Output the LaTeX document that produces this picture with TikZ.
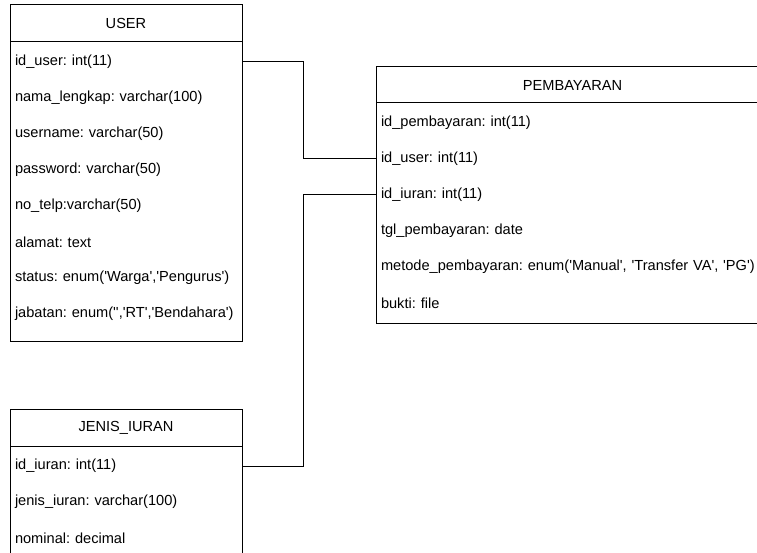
\documentclass[tikz,border=0pt]{standalone}
\usepackage{fontspec}
\setmainfont{Liberation Sans}[Ligatures=TeXOff]
\usetikzlibrary{positioning}

\begin{document}
\begin{tikzpicture}[
  x=1pt, y=-1pt,
  font=\fontsize{14.6}{17}\selectfont\frenchspacing,
  tblhead/.style={rectangle, draw, line width=1pt, outer sep=0pt, inner sep=0pt, align=center},
  tblbody/.style={rectangle, draw, line width=1pt, outer sep=0pt, inner sep=0pt},
  attr/.style={rectangle, outer sep=0pt, inner xsep=5pt, inner ysep=0pt, minimum height=36pt, text width=#1, align=left, anchor=north west},
  link/.style={line width=1pt}
]
  \useasboundingbox (0,0) rectangle (757,553);
  \clip (0,0) rectangle (757,553);

  % USER
  \node[tblhead, minimum width=232pt, minimum height=37pt, anchor=north west] (user) at (10,5) {USER};
  \node[tblbody, minimum width=232pt, minimum height=299pt, below=0pt of user] (userbody) {};
  \foreach \txt [count=\i] in {id\_user: int(11), nama\_lengkap: varchar(100), username: varchar(50), password: varchar(50), no\_telp:varchar(50), alamat: text, {status: enum('Warga','Pengurus')}, {jabatan: enum('','RT','Bendahara')}}
    \node[attr=222pt] (u\i) at ([yshift=-(\i-1)*36pt-2pt]userbody.north west) {\txt};

  % PEMBAYARAN
  \node[tblhead, minimum width=393pt, minimum height=36pt, anchor=north west] (bayar) at (376,67) {PEMBAYARAN};
  \node[tblbody, minimum width=393pt, minimum height=220pt, below=0pt of bayar] (bayarbody) {};
  \foreach \txt [count=\i] in {id\_pembayaran: int(11), id\_user: int(11), id\_iuran: int(11), tgl\_pembayaran: date, {metode\_pembayaran: enum('Manual', 'Transfer VA', 'PG')}, bukti: file}
    \node[attr=383pt] (p\i) at ([yshift=-(\i-1)*36pt-2pt]bayarbody.north west) {\txt};

  % JENIS_IURAN
  \node[tblhead, minimum width=232pt, minimum height=37pt, anchor=north west] (iuran) at (10,409) {JENIS\_IURAN};
  \node[tblbody, minimum width=232pt, minimum height=150pt, below=0pt of iuran] (iuranbody) {};
  \foreach \txt [count=\i] in {id\_iuran: int(11), jenis\_iuran: varchar(100), nominal: decimal}
    \node[attr=222pt] (j\i) at ([yshift=-(\i-1)*36pt-2pt]iuranbody.north west) {\txt};

  % relasi
  \draw[link] (u1.east) -- ++(61,0) |- (p2.west);
  \draw[link] (p3.west) -- ++(-73,0) |- (j1.east);
\end{tikzpicture}
\end{document}
